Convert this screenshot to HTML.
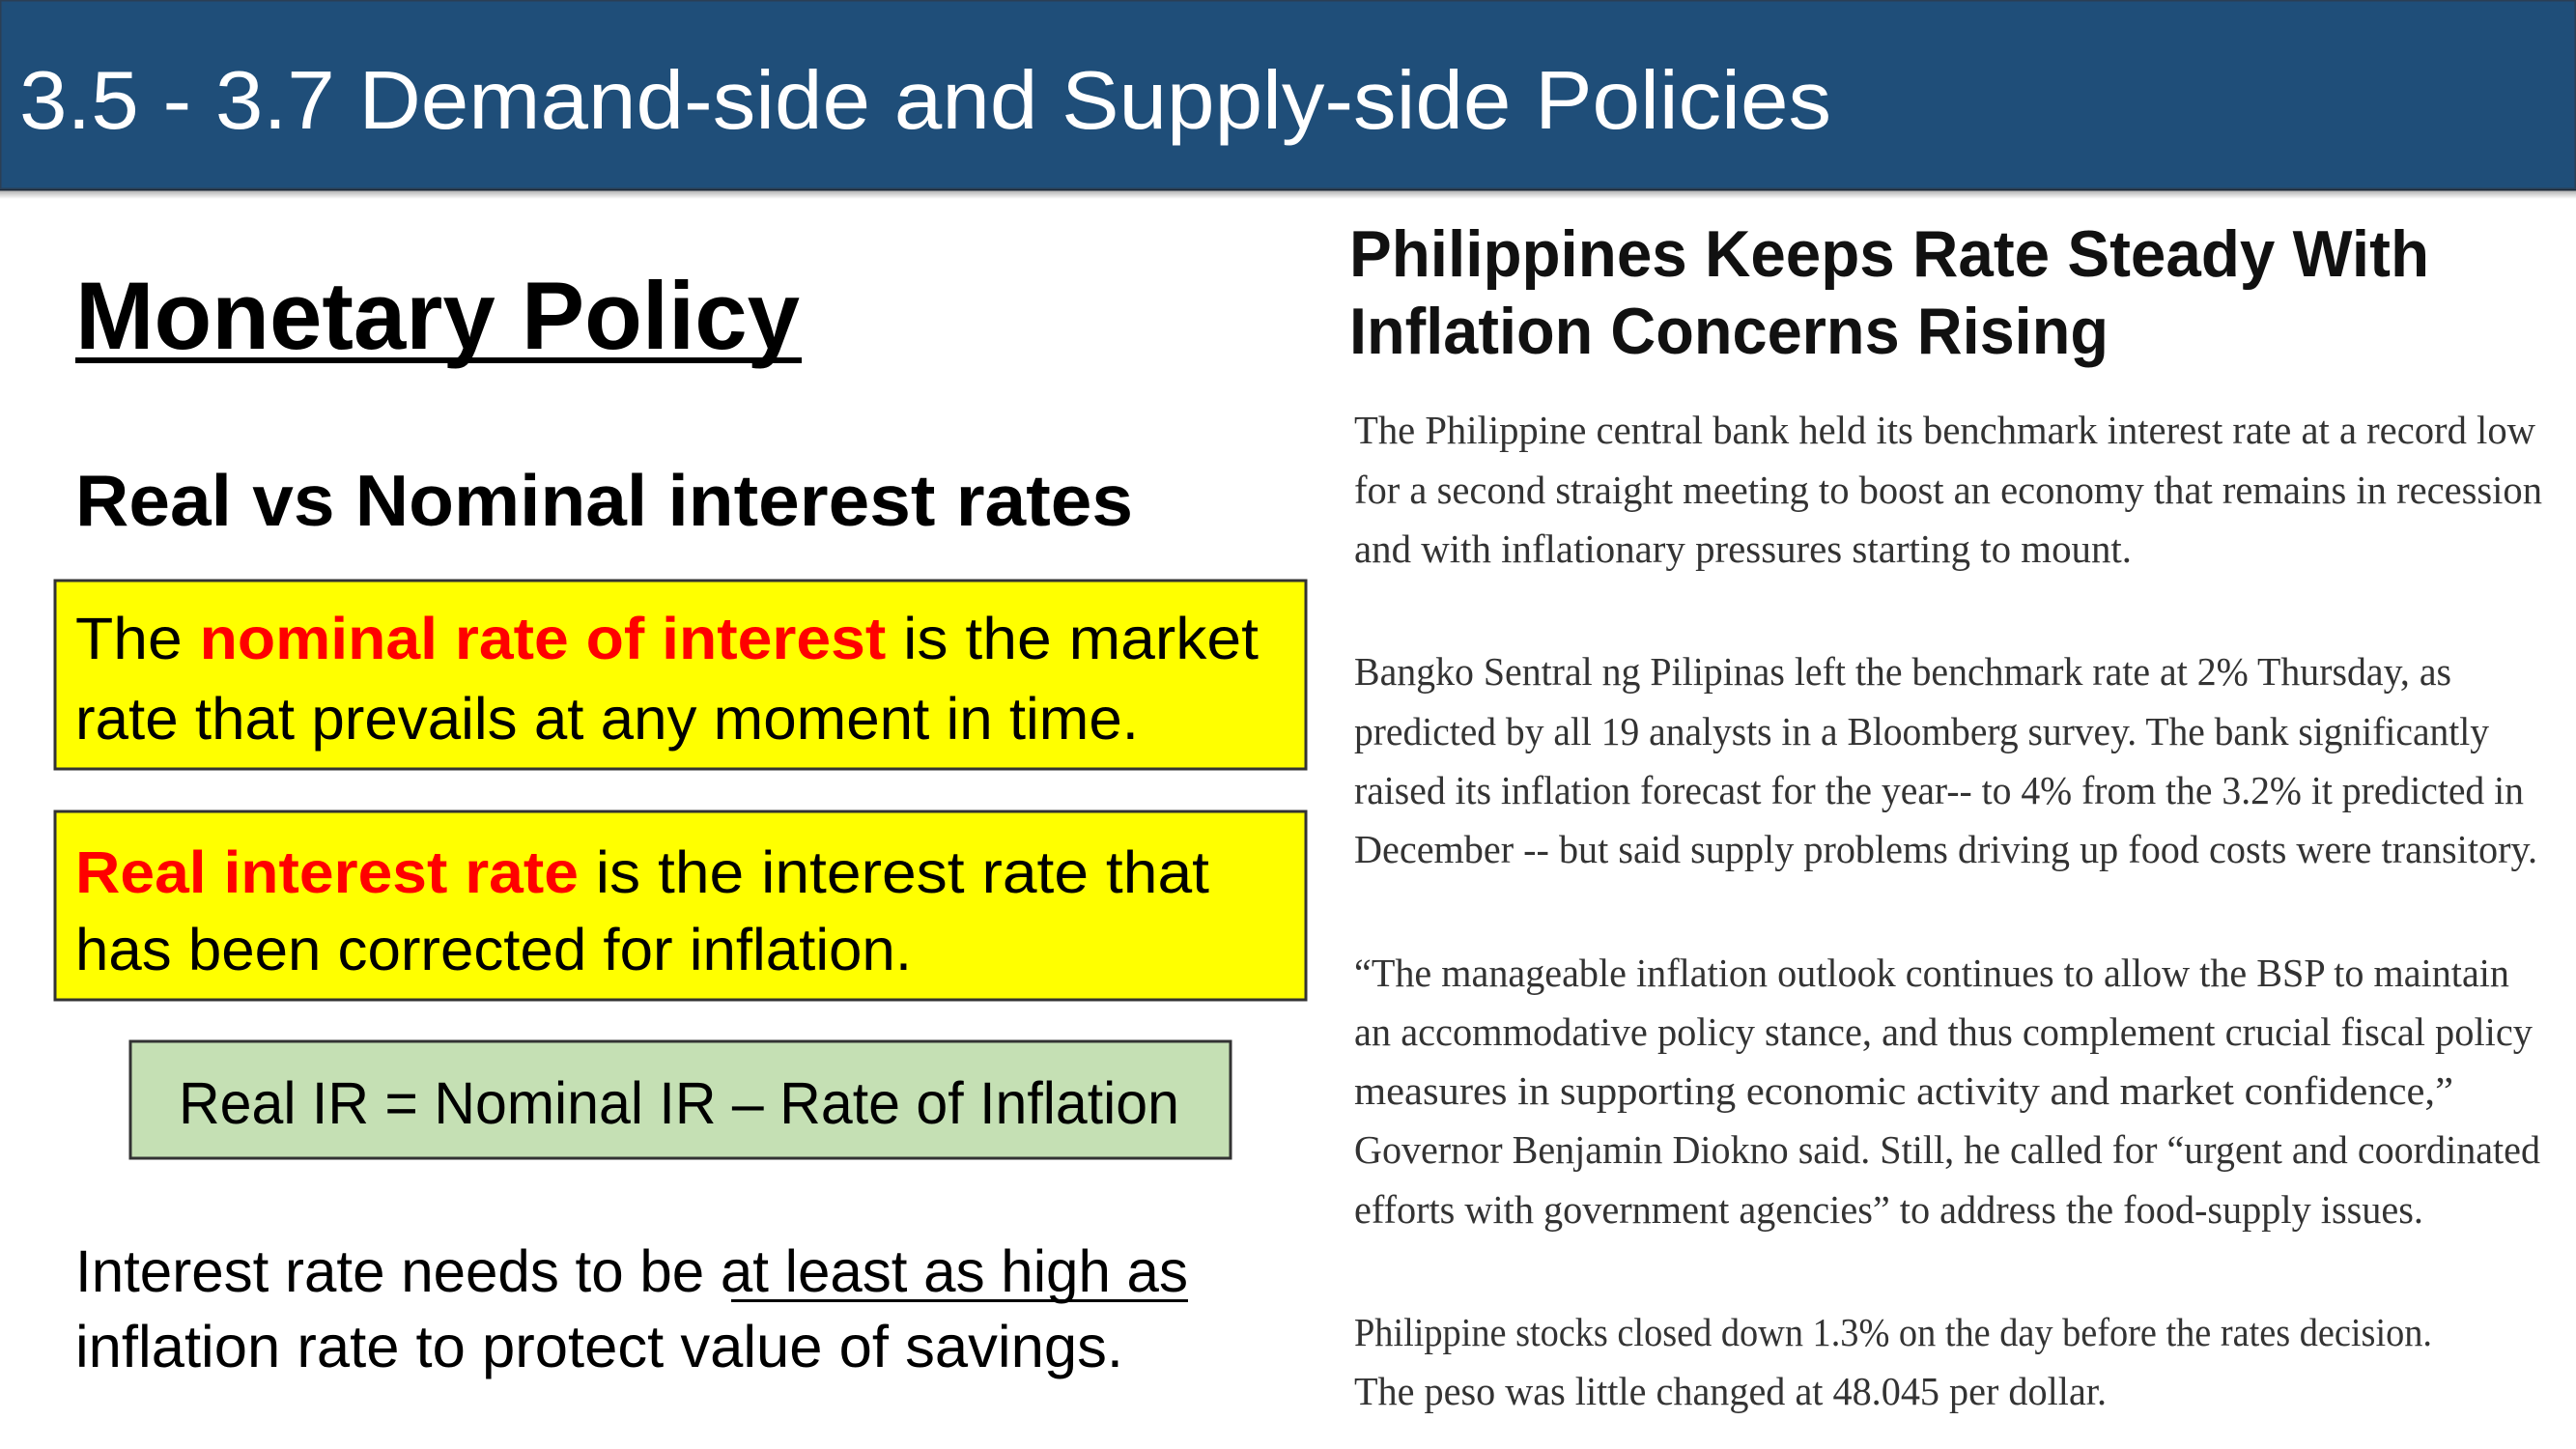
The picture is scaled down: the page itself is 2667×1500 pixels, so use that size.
<!DOCTYPE html>
<html><head><meta charset="utf-8"><style>
html,body{margin:0;padding:0;background:#fff;width:2667px;height:1500px;overflow:hidden}
svg{display:block}
.sans{font-family:"Liberation Sans","DejaVu Sans",sans-serif}
.serif{font-family:"Liberation Serif","DejaVu Serif",serif}
</style></head><body>
<svg width="2667" height="1500" viewBox="0 0 2667 1500" xmlns="http://www.w3.org/2000/svg">
<defs><linearGradient id="sh" x1="0" y1="0" x2="0" y2="1"><stop offset="0" stop-color="#000" stop-opacity="0.35"/><stop offset="1" stop-color="#000" stop-opacity="0"/></linearGradient></defs>
<g>
<rect x="0" y="0" width="2667" height="196" fill="#1f4e79" stroke="#2b3f55" stroke-width="3"/>
<rect x="0" y="196" width="2667" height="10" fill="url(#sh)"/>
<text class="sans" x="20" y="133" font-size="85" fill="#fff" textLength="1876" lengthAdjust="spacingAndGlyphs">3.5 - 3.7 Demand-side and Supply-side Policies</text>
</g>
<text class="sans" x="78" y="361" font-size="99" font-weight="bold" fill="#000" textLength="750" lengthAdjust="spacingAndGlyphs">Monetary Policy</text>
<rect x="78" y="370" width="752" height="6" fill="#000"/>
<text class="sans" x="78" y="544" font-size="75" font-weight="bold" fill="#000" textLength="1095" lengthAdjust="spacingAndGlyphs">Real vs Nominal interest rates</text>

<g>
<rect x="57" y="601" width="1295" height="195" fill="#ffff00" stroke="#333" stroke-width="3"/>
<text class="sans" x="78" y="682" font-size="61" fill="#000" textLength="1225" lengthAdjust="spacingAndGlyphs">The <tspan fill="#ff0000" font-weight="bold">nominal rate of interest</tspan> is the market</text>
<text class="sans" x="78" y="765" font-size="61" fill="#000" textLength="1101" lengthAdjust="spacingAndGlyphs">rate that prevails at any moment in time.</text>
</g>
<g>
<rect x="57" y="840" width="1295" height="195" fill="#ffff00" stroke="#333" stroke-width="3"/>
<text class="sans" x="78" y="924" font-size="61" fill="#000" textLength="1174" lengthAdjust="spacingAndGlyphs"><tspan fill="#ff0000" font-weight="bold">Real interest rate</tspan> is the interest rate that</text>
<text class="sans" x="78" y="1004" font-size="61" fill="#000" textLength="866" lengthAdjust="spacingAndGlyphs">has been corrected for inflation.</text>
</g>
<g>
<rect x="135" y="1078" width="1139" height="121" fill="#c5e0b4" stroke="#333" stroke-width="3"/>
<text class="sans" x="185" y="1163" font-size="61" fill="#000" textLength="1036" lengthAdjust="spacingAndGlyphs">Real IR = Nominal IR – Rate of Inflation</text>
</g>
<g>
<text class="sans" x="78" y="1337" font-size="61" fill="#000" textLength="1152" lengthAdjust="spacingAndGlyphs">Interest rate needs to be at least as high as</text>
<rect x="757" y="1345" width="473" height="3" fill="#000"/>
<text class="sans" x="78" y="1415" font-size="61" fill="#000" textLength="1085" lengthAdjust="spacingAndGlyphs">inflation rate to protect value of savings.</text>
</g>

<g>
<text class="sans" x="1397" y="286" font-size="68" font-weight="bold" fill="#111" textLength="1118" lengthAdjust="spacingAndGlyphs">Philippines Keeps Rate Steady With</text>
<text class="sans" x="1397" y="366" font-size="68" font-weight="bold" fill="#111" textLength="786" lengthAdjust="spacingAndGlyphs">Inflation Concerns Rising</text>
</g>
<g class="serif" font-size="41" fill="#333">
<text x="1402" y="459" textLength="1223" lengthAdjust="spacingAndGlyphs">The Philippine central bank held its benchmark interest rate at a record low</text>
<text x="1402" y="521" textLength="1230" lengthAdjust="spacingAndGlyphs">for a second straight meeting to boost an economy that remains in recession</text>
<text x="1402" y="582" textLength="805" lengthAdjust="spacingAndGlyphs">and with inflationary pressures starting to mount.</text>
<text x="1402" y="709" textLength="1136" lengthAdjust="spacingAndGlyphs">Bangko Sentral ng Pilipinas left the benchmark rate at 2% Thursday, as</text>
<text x="1402" y="771" textLength="1175" lengthAdjust="spacingAndGlyphs">predicted by all 19 analysts in a Bloomberg survey. The bank significantly</text>
<text x="1402" y="832" textLength="1211" lengthAdjust="spacingAndGlyphs">raised its inflation forecast for the year-- to 4% from the 3.2% it predicted in</text>
<text x="1402" y="893" textLength="1225" lengthAdjust="spacingAndGlyphs">December -- but said supply problems driving up food costs were transitory.</text>
<text x="1402" y="1021" textLength="1196" lengthAdjust="spacingAndGlyphs">“The manageable inflation outlook continues to allow the BSP to maintain</text>
<text x="1402" y="1082" textLength="1220" lengthAdjust="spacingAndGlyphs">an accommodative policy stance, and thus complement crucial fiscal policy</text>
<text x="1402" y="1143" textLength="1138" lengthAdjust="spacingAndGlyphs">measures in supporting economic activity and market confidence,”</text>
<text x="1402" y="1204" textLength="1228" lengthAdjust="spacingAndGlyphs">Governor Benjamin Diokno said. Still, he called for “urgent and coordinated</text>
<text x="1402" y="1266" textLength="1107" lengthAdjust="spacingAndGlyphs">efforts with government agencies” to address the food-supply issues.</text>
<text x="1402" y="1393" textLength="1116" lengthAdjust="spacingAndGlyphs">Philippine stocks closed down 1.3% on the day before the rates decision.</text>
<text x="1402" y="1454" textLength="779" lengthAdjust="spacingAndGlyphs">The peso was little changed at 48.045 per dollar.</text>
</g>
</svg>
</body></html>
